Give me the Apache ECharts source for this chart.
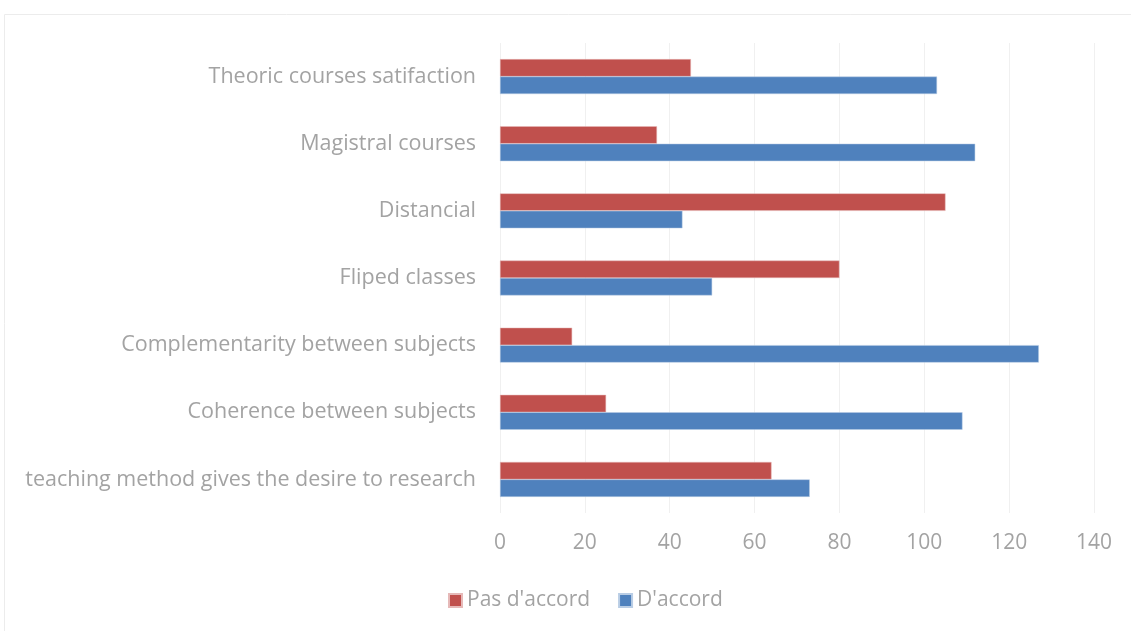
<!DOCTYPE html>
<html>
	<head>
		<meta charset="utf-8">
		<title>Chart</title>
		<style>
			html, body { margin: 0; padding: 0; background: #fff; }
			#main { width: 1131px; height: 631px; }
		</style>
	</head>
	<body>
		<div id="main"></div>
		<script src="https://cdn.jsdelivr.net/npm/echarts@6/dist/echarts.min.js"></script>
		<script>
			// categories bottom to top, as ECharts draws a vertical category axis
			var categories = [
				'teaching method gives the desire to research',
				'Coherence between subjects',
				'Complementarity between subjects',
				'Fliped classes',
				'Distancial',
				'Magistral courses',
				'Theoric courses satifaction'
			];
			var pasDaccord = [64, 25, 17, 80, 105, 37, 45];
			var daccord = [73, 109, 127, 50, 43, 112, 103];
			var xTicks = [0, 20, 40, 60, 80, 100, 120, 140];

			var labelColor = '#a3a3a3';
			var font = '"Open Sans", sans-serif';

			var chart = echarts.init(document.getElementById('main'));
			var option = {
				animation: false,
				graphic: [{
					type: 'rect',
					shape: { x: 4.5, y: 14.5, width: 1140, height: 640 },
					style: { fill: null, stroke: '#ececec', lineWidth: 1 }
				}],
				grid: { left: 500, right: 37, top: 43, bottom: 118 },
				legend: {
					data: ["Pas d'accord", "D'accord"],
					bottom: 15,
					left: 443,
					itemWidth: 13,
					itemHeight: 13,
					itemGap: 28,
					icon: 'rect',
					textStyle: { color: labelColor, fontSize: 21, fontFamily: font }
				},
				xAxis: {
					type: 'value',
					min: xTicks[0],
					max: xTicks[xTicks.length - 1],
					interval: 20,
					axisLine: { show: false },
					axisTick: { show: false },
					splitLine: { lineStyle: { color: '#f0f0f0' } },
					axisLabel: { color: labelColor, fontSize: 21, fontFamily: font, margin: 20 }
				},
				yAxis: {
					type: 'category',
					data: categories,
					axisLine: { show: false },
					axisTick: { show: false },
					axisLabel: { color: labelColor, fontSize: 21.5, fontFamily: font, margin: 24 }
				},
				series: [{
					name: "Pas d'accord",
					type: 'bar',
					data: pasDaccord,
					barGap: '0%',
					barCategoryGap: '48%',
					itemStyle: { color: '#c0504d', borderColor: '#e6b9b8', borderWidth: 0.5 }
				}, {
					name: "D'accord",
					type: 'bar',
					data: daccord,
					barGap: '0%',
					barCategoryGap: '48%',
					itemStyle: { color: '#4f81bd', borderColor: '#b9cde5', borderWidth: 0.5 }
				}]
			};
			chart.setOption(option);
		</script>
	</body>
</html>
